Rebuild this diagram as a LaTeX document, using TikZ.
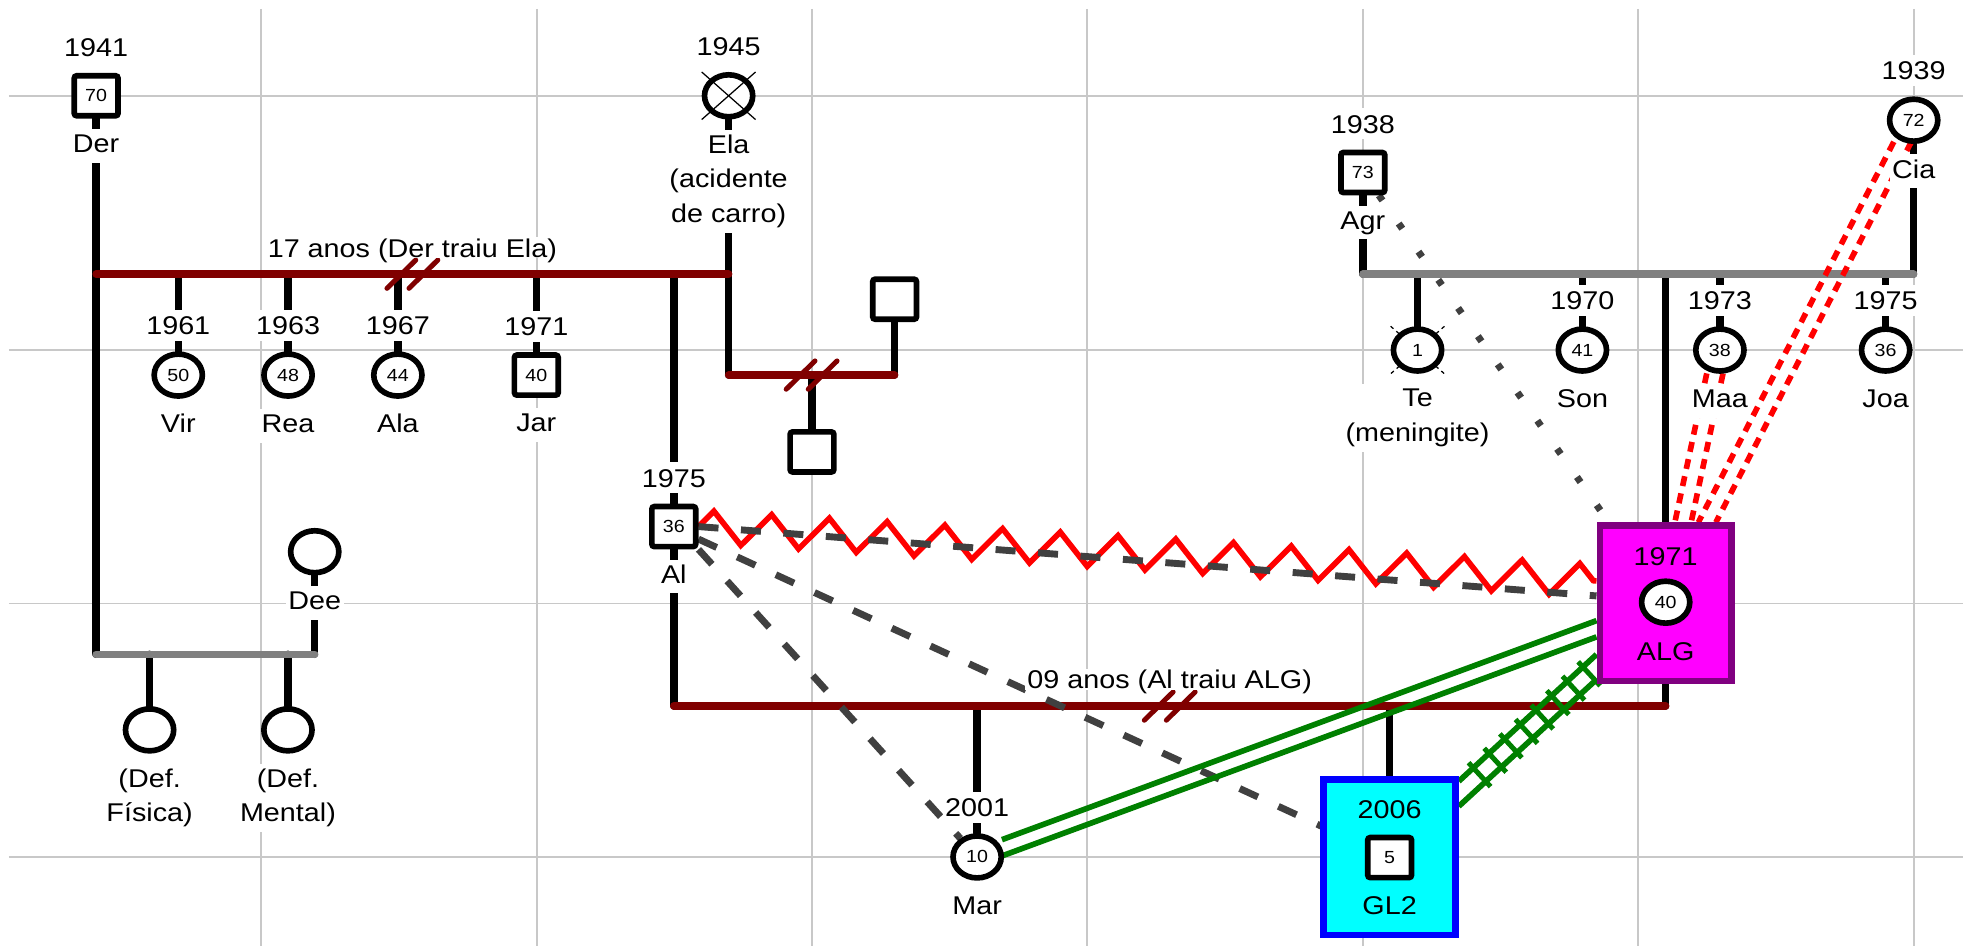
\documentclass[tikz,border=0pt]{standalone}
\usepackage{fontspec}
\setmainfont{Liberation Sans}[FakeStretch=1.12]
\usepackage{tikz}
\usetikzlibrary{positioning,shapes.geometric,backgrounds,decorations.pathmorphing,decorations.markings}
\definecolor{cGrid}{HTML}{C8C8C8}
\definecolor{cMarr}{HTML}{800000}
\definecolor{cBar}{HTML}{808080}
\definecolor{cHost}{HTML}{FF0000}
\definecolor{cDash}{HTML}{404040}
\definecolor{cClose}{HTML}{008000}
\definecolor{cAlgBg}{HTML}{FF00FF}
\definecolor{cAlgBorder}{HTML}{800080}
\definecolor{cGlBg}{HTML}{00FFFF}
\definecolor{cGlBorder}{HTML}{0000FF}
\newcommand{\genfont}{\fontsize{20.5}{27.5}\selectfont}
\newcommand{\agefont}{\fontsize{14}{16}\selectfont}

\begin{document}
\begin{tikzpicture}[
  x=1pt, y=-1pt,
  every node/.style={font=\genfont},
  gridline/.style={draw=cGrid, line width=1.5pt},
  female/.style={ellipse, draw, line width=4.5pt, fill=white, minimum width=38.5pt,
                 minimum height=33.5pt, inner sep=0pt, font=\agefont},
  male/.style={rectangle, draw, line width=4.5pt, rounded corners=2pt, fill=white,
               minimum width=35pt, minimum height=32pt, inner sep=0pt, font=\agefont},
  yr/.style={fill=white, inner xsep=2pt, inner ysep=5pt, text height=15pt, text depth=0pt},
  nm/.style={fill=white, inner xsep=2pt, inner ysep=4pt, text height=15pt, text depth=4pt},
  nmx/.style={fill=white, inner xsep=2pt, inner ysep=4pt, align=center},
  relnote/.style={fill=white, inner xsep=2pt, inner ysep=1pt, text height=15pt, text depth=0pt},
  bare/.style={fill=none},
  famcard/.style={rectangle, line width=5.5pt, minimum width=105pt, minimum height=124pt},
  kin/.style={line width=6pt, line cap=round},
  couple/.style={draw=cMarr, line width=6pt, line cap=round},
  union/.style={draw=cBar, line width=6pt, line cap=round},
  divorced/.style={postaction={decorate, decoration={markings, mark=at position 0.5 with
      {\draw[cMarr, line width=4pt] (-20.3pt,-11.3pt) -- (2.7pt,11.3pt)
                                    (-2.7pt,-11.3pt) -- (20.3pt,11.3pt);}}}},
  hostile/.style={draw=cHost, line width=4.5pt, decorate,
                  decoration={zigzag, segment length=46.2pt, amplitude=13pt}},
  distant/.style={draw=cDash, line width=5.5pt, dash pattern=on 16pt off 18pt},
  dotline/.style={draw=cDash, line width=5.5pt, dash pattern=on 5pt off 22.5pt},
  conflict/.style={draw=cHost, line width=4.5pt, dash pattern=on 8pt off 6pt},
  closeline/.style={draw=cClose, line width=4.5pt},
  ladder/.style={postaction={decorate, decoration={markings,
      mark=between positions 8pt and -8pt step 17pt with
      {\draw[cClose, line width=4pt] (0pt,-13pt) -- (0pt,13pt);}}}},
  xmark/.style={line width=1pt},
  deadmark/.style={line width=1pt, dash pattern=on 3pt off 3pt},
]
  \useasboundingbox (0,0) rectangle (1568,756);

  % Der and Ela with their children
  \node[male] (Der) at (76.8,76.5) {70};
  \node[yr, above=8pt of Der] (yDer) {1941};
  \node[nm, below=8pt of Der] (nDer) {Der};
  \node[female] (Ela) at (582,76.5) {};
  \draw[xmark] (Ela.north -| Ela.west) -- (Ela.south -| Ela.east)
               (Ela.north -| Ela.east) -- (Ela.south -| Ela.west);
  \node[yr, above=8pt of Ela] (yEla) {1945};
  \node[nmx, below=8pt of Ela] (nEla) {Ela\\(acidente\\de carro)};

  \node[female] (Vir) at (142.4,299.6) {50};
  \node[yr, above=8pt of Vir] {1961};
  \node[nm, below=8pt of Vir] {Vir};
  \node[female] (Rea) at (230.1,299.6) {48};
  \node[yr, above=8pt of Rea] {1963};
  \node[nm, below=8pt of Rea] {Rea};
  \node[female] (Ala) at (317.8,299.6) {44};
  \node[yr, above=8pt of Ala] {1967};
  \node[nm, below=8pt of Ala] {Ala};
  \node[male] (Jar) at (428.4,299.6) {40};
  \node[yr, above=8pt of Jar] {1971};
  \node[nm, below=8pt of Jar] {Jar};
  \node[male] (Al) at (538.2,420.6) {36};
  \node[yr, above=8pt of Al] {1975};
  \node[nm, below=8pt of Al] {Al};
  \node[relnote] (tDE) at (329.4,197.8) {17 anos (Der traiu Ela)};

  % Ela's second union
  \node[male] (ElaM) at (714.6,239) {};
  \node[male] (ElaS) at (648.6,361) {};

  % Der and Dee
  \node[female] (Dee) at (251.4,440.7) {};
  \node[nm, below=8pt of Dee] {Dee};
  \node[female] (DefF) at (119.5,583) {};
  \node[nmx, below=8pt of DefF] {(Def.\\Física)};
  \node[female] (DefM) at (230,583) {};
  \node[nmx, below=8pt of DefM] {(Def.\\Mental)};

  % Agr and Cia with their children
  \node[male] (Agr) at (1088.6,137.8) {73};
  \node[yr, above=8pt of Agr] {1938};
  \node[nm, below=8pt of Agr] {Agr};
  \node[female] (Cia) at (1528.6,96) {72};
  \node[yr, above=8pt of Cia] {1939};
  \node[nm, below=8pt of Cia] {Cia};
  \node[female] (Te) at (1132.3,279.6) {1};
  \node[nmx, below=8pt of Te] {Te\\(meningite)};
  \node[female] (Son) at (1264,279.6) {41};
  \node[yr, above=8pt of Son] {1970};
  \node[nm, below=8pt of Son] {Son};
  \node[female] (Maa) at (1373.8,279.6) {38};
  \node[yr, above=8pt of Maa] {1973};
  \node[nm, below=8pt of Maa] {Maa};
  \node[female] (Joa) at (1506.2,279.6) {36};
  \node[yr, above=8pt of Joa] {1975};
  \node[nm, below=8pt of Joa] {Joa};

  % ALG household
  \node[famcard, draw=cAlgBorder, fill=cAlgBg] (ALGbox) at (1330.5,482) {};
  \node[female] (ALG) at (1330.5,481) {40};
  \node[yr, bare, above=5pt of ALG] {1971};
  \node[nm, bare, below=8pt of ALG] {ALG};
  \node[female] (Mar) at (780.5,684.5) {10};
  \node[yr, above=8pt of Mar] {2001};
  \node[nm, below=8pt of Mar] {Mar};
  \node[famcard, draw=cGlBorder, fill=cGlBg] (GLbox) at (1110,684.8) {};
  \node[male] (GL2) at (1110,685) {5};
  \node[yr, bare, above=8pt of GL2] {2006};
  \node[nm, bare, below=8pt of GL2] {GL2};
  \node[relnote] (tAA) at (934.3,542.6) {09 anos (Al traiu ALG)};

  \begin{scope}[on background layer]
    \fill[white] (0,0) rectangle (1568,756);
    \foreach \gx in {208.6,428.6,...,1528.6}
      \draw[gridline] (\gx,7) -- (\gx,756);
    \foreach \gy in {77,279.6,482.1,684.6}
      \draw[gridline] (7,\gy) -- (1568,\gy);

    \coordinate (de) at (0,219);
    \coordinate (e2) at (0,299.6);
    \coordinate (dd) at (0,522.6);
    \coordinate (ac) at (0,219);
    \coordinate (aa) at (0,564);

    \draw[kin] (Der) -- (Der |- dd);
    \draw[kin] (Dee) -- (Dee |- dd);
    \draw[kin] (DefF |- dd) -- (DefF);
    \draw[kin] (DefM |- dd) -- (DefM);
    \draw[union] (Der |- dd) -- (Dee |- dd);

    \draw[kin] (Ela) -- (Ela |- e2);
    \draw[kin] (Vir |- de) -- (Vir);
    \draw[kin] (Rea |- de) -- (Rea);
    \draw[kin] (Ala |- de) -- (Ala);
    \draw[kin] (Jar |- de) -- (Jar);
    \draw[kin] (Al |- de) -- (Al);
    \draw[kin] (Al) -- (Al |- aa);
    \draw[couple, divorced] (Der |- de) -- (Ela |- de);

    \draw[kin] (ElaM) -- (ElaM |- e2);
    \draw[kin] (ElaS |- e2) -- (ElaS);
    \draw[couple, divorced] (Ela |- e2) -- (ElaM |- e2);

    \draw[kin] (Agr) -- (Agr |- ac);
    \draw[kin] (Cia) -- (Cia |- ac);
    \draw[kin] (Te |- ac) -- (Te);
    \draw[deadmark] (Te.north -| Te.west) -- (Te.south -| Te.east)
                    (Te.north -| Te.east) -- (Te.south -| Te.west);
    \draw[kin] (Son |- ac) -- (Son);
    \draw[kin] (Maa |- ac) -- (Maa);
    \draw[kin] (Joa |- ac) -- (Joa);
    \draw[kin] (ALGbox |- ac) -- (ALGbox);
    \draw[union] (Agr |- ac) -- (Cia |- ac);

    \draw[kin] (ALGbox) -- (ALGbox |- aa);
    \draw[kin] (Mar |- aa) -- (Mar);
    \draw[kin] (GLbox |- aa) -- (GLbox);
    \draw[couple, divorced] (Al |- aa) -- (ALGbox |- aa);

    % emotional links
    \draw[hostile] (Al.east) -- ([yshift=18pt]ALGbox.west);
    \draw[distant] (Al.east) -- ([yshift=6pt]ALGbox.west);
    \draw[distant] (Al.south east) -- (Mar);
    \draw[distant] ([yshift=-10pt]Al.east) -- (GL2);
    \draw[dotline] (Agr) -- (ALGbox);
    \draw[conflict, transform canvas={xshift=-6.5pt}] (Maa) -- (ALGbox);
    \draw[conflict, transform canvas={xshift=6.5pt}] (Maa) -- (ALGbox);
    \draw[conflict, transform canvas={xshift=-7pt}] (Cia) -- (ALGbox);
    \draw[conflict, transform canvas={xshift=7pt}] (Cia) -- (ALGbox);
    \draw[closeline, transform canvas={yshift=6.5pt}] (ALGbox) -- (Mar);
    \draw[closeline, transform canvas={yshift=-6.5pt}] (ALGbox) -- (Mar);
    \draw[closeline, transform canvas={yshift=10pt}] (ALGbox) -- (GLbox);
    \draw[closeline, transform canvas={yshift=-10pt}] (ALGbox) -- (GLbox);
    \path[ladder] (ALGbox) -- (GLbox);
  \end{scope}
\end{tikzpicture}
\end{document}
